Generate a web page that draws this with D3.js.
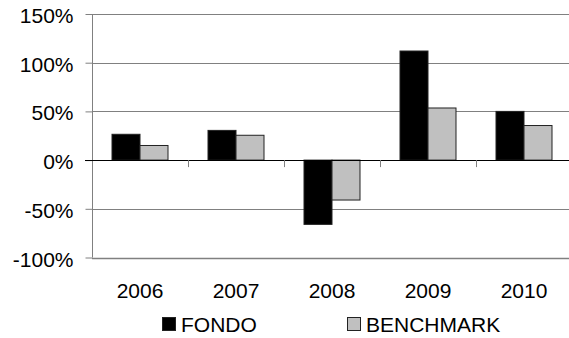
<!DOCTYPE html>
<html><head><meta charset="utf-8">
<script src="https://cdn.jsdelivr.net/npm/d3@7"></script>
<style>html,body{margin:0;padding:0;background:#fff;overflow:hidden}</style>
</head><body>
<svg id="c" width="569" height="338"></svg>
<script>
const categories = ["2006","2007","2008","2009","2010"];
const seriesNames = ["FONDO","BENCHMARK"];
const fondo = [26.5, 30.5, -66, 112, 50];
const benchmark = [15, 25.5, -41, 53.5, 35.5];
const yTicks = [-100,-50,0,50,100,150];
const yTickLabels = ["-100%","-50%","0%","50%","100%","150%"];
const colors = ["#000000","#c0c0c0"];

const svg = d3.select("#c");
const font = "Liberation Sans, Arial, sans-serif";
const x0 = 92, x1 = 572, yTop = 14, yBot = 257.5;
const x = d3.scaleBand().domain(categories).range([x0, x1]).paddingInner(0).paddingOuter(0);
const y = d3.scaleLinear().domain([-100,150]).range([yBot, yTop]);
const xs = d3.scaleBand().domain(seriesNames).range([0, x.bandwidth()]).paddingInner(0).paddingOuter(20/28);

// gridlines
svg.append("g").selectAll("line").data(yTicks.filter(d=>d!==0)).join("line")
  .attr("x1", x0).attr("x2", x1)
  .attr("y1", d=>Math.round(y(d))+0.5).attr("y2", d=>Math.round(y(d))+0.5)
  .attr("stroke", "#808080").attr("stroke-width", d=>d===-100?1.5:1);

// y axis
const yAxis = d3.axisLeft(y).tickValues(yTicks).tickSize(7).tickFormat((d,i)=>yTickLabels[i]);
const gy = svg.append("g").attr("transform", `translate(${x0+0.5},0)`).call(yAxis);
gy.select(".domain").attr("stroke","#808080").attr("d", `M0,${yTop}V${yBot}`);
gy.selectAll(".tick line").attr("stroke","#808080");
gy.selectAll(".tick text").attr("font-family",font).attr("font-size",21).attr("fill","#000")
  .attr("x",-19).attr("dy",null).attr("y",8.5);

// bars
const data = categories.map((c,i)=>({c, vals:[fondo[i], benchmark[i]]}));
const groups = svg.append("g").selectAll("g").data(data).join("g")
  .attr("transform", d=>`translate(${x(d.c)},0)`);
groups.selectAll("rect").data(d=>d.vals.map((v,j)=>({v, s:seriesNames[j], j}))).join("rect")
  .attr("x", d=>xs(d.s)).attr("width", xs.bandwidth())
  .attr("y", d=>y(Math.max(0,d.v))).attr("height", d=>Math.abs(y(d.v)-y(0)))
  .attr("fill", d=>colors[d.j]).attr("stroke","#222").attr("stroke-width",1);

// x axis at zero
const xAxis = d3.axisBottom(x).tickSize(0).tickSizeOuter(0);
const gx = svg.append("g").attr("transform", `translate(0,${Math.round(y(0))+0.5})`).call(xAxis);
gx.select(".domain").attr("stroke","#000").attr("d", `M${x0-7},0H${x1}`);
gx.selectAll(".tick text").attr("font-family",font).attr("font-size",21).attr("fill","#000")
  .attr("dy",null).attr("y", 298 - (Math.round(y(0))+0.5));
// category boundary ticks
svg.append("g").selectAll("line").data(categories.slice(1)).join("line")
  .attr("x1", d=>Math.round(x(d))+0.5).attr("x2", d=>Math.round(x(d))+0.5)
  .attr("y1", y(0)).attr("y2", y(0)+7).attr("stroke","#808080");

// legend
const legX = [162, 347];
const leg = svg.append("g").selectAll("g").data(seriesNames).join("g")
  .attr("transform",(d,i)=>`translate(${legX[i]},317)`);
leg.append("rect").attr("x",0.5).attr("y",0.5).attr("width",13).attr("height",13)
  .attr("fill",(d,i)=>colors[i]).attr("stroke","#222");
leg.append("text").attr("x",19).attr("y",14.5).text(d=>d)
  .attr("font-family",font).attr("font-size",21).attr("fill","#000");
</script>
</body></html>
